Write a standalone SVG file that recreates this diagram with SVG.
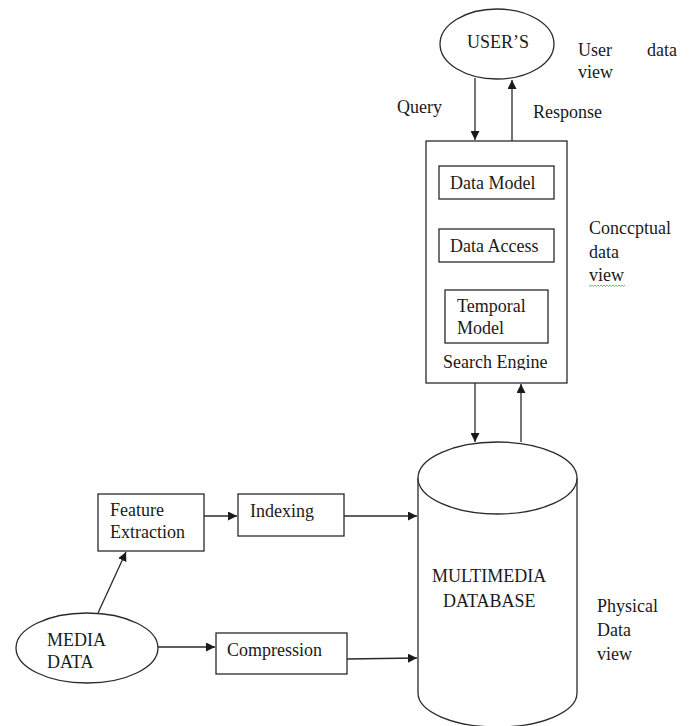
<svg xmlns="http://www.w3.org/2000/svg" width="692" height="726" viewBox="0 0 692 726">
  <style>
    .t { font-family: "Liberation Serif", "Times New Roman", serif; font-size: 18px; fill: #1a1a1a; }
    .s { fill: #ffffff; stroke: #2a2a2a; stroke-width: 1.3; }
    .c { fill: none; stroke: #2a2a2a; stroke-width: 1.3; }
  </style>
  <defs>
    <marker id="ah" viewBox="0 0 10 10" refX="10" refY="5" markerWidth="9" markerHeight="9" markerUnits="userSpaceOnUse" orient="auto">
      <path d="M0,0 L10,5 L0,10 z" fill="#1a1a1a"/>
    </marker>
    <clipPath id="seclip"><rect x="426" y="340" width="141" height="30"/></clipPath>
  </defs>
  <rect width="692" height="726" fill="#ffffff"/>

  <g id="users">
    <ellipse class="s" cx="497" cy="44" rx="57" ry="35"/>
    <text class="t" x="467" y="48">USER’S</text>
  </g>
  <g id="label-user-view">
    <text class="t" x="578" y="56">User</text>
    <text class="t" x="647" y="56">data</text>
    <text class="t" x="578" y="78">view</text>
  </g>

  <g id="search-engine">
    <rect class="s" x="426" y="141" width="141" height="242"/>
    <text class="t" x="443" y="368" clip-path="url(#seclip)">Search Engine</text>
  </g>
  <g id="data-model">
    <rect class="s" x="439" y="166" width="115" height="33"/>
    <text class="t" x="450" y="189">Data Model</text>
  </g>
  <g id="data-access">
    <rect class="s" x="439" y="229" width="115" height="33"/>
    <text class="t" x="450" y="252">Data Access</text>
  </g>
  <g id="temporal-model">
    <rect class="s" x="445" y="290" width="103" height="53"/>
    <text class="t" x="457" y="312">Temporal</text>
    <text class="t" x="457" y="334">Model</text>
  </g>
  <g id="label-conceptual">
    <text class="t" x="589" y="234">Conccptual</text>
    <text class="t" x="589" y="258">data</text>
    <text class="t" x="589" y="281">view</text>
    <path d="M589,285 l1.5,1.5 l1.5,-1.5 l1.5,1.5 l1.5,-1.5 l1.5,1.5 l1.5,-1.5 l1.5,1.5 l1.5,-1.5 l1.5,1.5 l1.5,-1.5 l1.5,1.5 l1.5,-1.5 l1.5,1.5 l1.5,-1.5 l1.5,1.5 l1.5,-1.5 l1.5,1.5 l1.5,-1.5 l1.5,1.5 l1.5,-1.5 l1.5,1.5 l1.5,-1.5 l1.5,1.5 l1.5,-1.5" fill="none" stroke="#4caf50" stroke-width="0.8"/>
  </g>

  <g id="multimedia-database">
    <path class="s" d="M418,478 L418,693 A79.5,34 0 0 0 577,693 L577,478"/>
    <ellipse class="s" cx="497.5" cy="478" rx="79.5" ry="36"/>
    <text class="t" x="432" y="582">MULTIMEDIA</text>
    <text class="t" x="443" y="607">DATABASE</text>
  </g>
  <g id="label-physical">
    <text class="t" x="597" y="612">Physical</text>
    <text class="t" x="597" y="636">Data</text>
    <text class="t" x="597" y="660">view</text>
  </g>

  <g id="feature-extraction">
    <rect class="s" x="98" y="494" width="106" height="57"/>
    <text class="t" x="110" y="516">Feature</text>
    <text class="t" x="110" y="538">Extraction</text>
  </g>
  <g id="indexing">
    <rect class="s" x="238" y="494" width="106" height="42"/>
    <text class="t" x="250" y="517">Indexing</text>
  </g>
  <g id="media-data">
    <ellipse class="s" cx="87" cy="648" rx="71" ry="35"/>
    <text class="t" x="47" y="646">MEDIA</text>
    <text class="t" x="47" y="668">DATA</text>
  </g>
  <g id="compression">
    <rect class="s" x="216" y="633" width="131" height="41"/>
    <text class="t" x="227" y="656">Compression</text>
  </g>

  <g id="connectors">
    <line class="c" x1="475" y1="78" x2="475" y2="140" marker-end="url(#ah)"/>
    <line class="c" x1="512" y1="141" x2="512" y2="80" marker-end="url(#ah)"/>
    <text class="t" x="397" y="113">Query</text>
    <text class="t" x="533" y="118">Response</text>
    <line class="c" x1="475" y1="383" x2="475" y2="442" marker-end="url(#ah)"/>
    <line class="c" x1="521" y1="442" x2="521" y2="384" marker-end="url(#ah)"/>
    <line class="c" x1="204" y1="516" x2="237" y2="516" marker-end="url(#ah)"/>
    <line class="c" x1="344" y1="516" x2="417" y2="516" marker-end="url(#ah)"/>
    <line class="c" x1="98" y1="613" x2="126" y2="552" marker-end="url(#ah)"/>
    <line class="c" x1="158" y1="647" x2="215" y2="647" marker-end="url(#ah)"/>
    <line class="c" x1="347" y1="659" x2="417" y2="658" marker-end="url(#ah)"/>
  </g>
</svg>
